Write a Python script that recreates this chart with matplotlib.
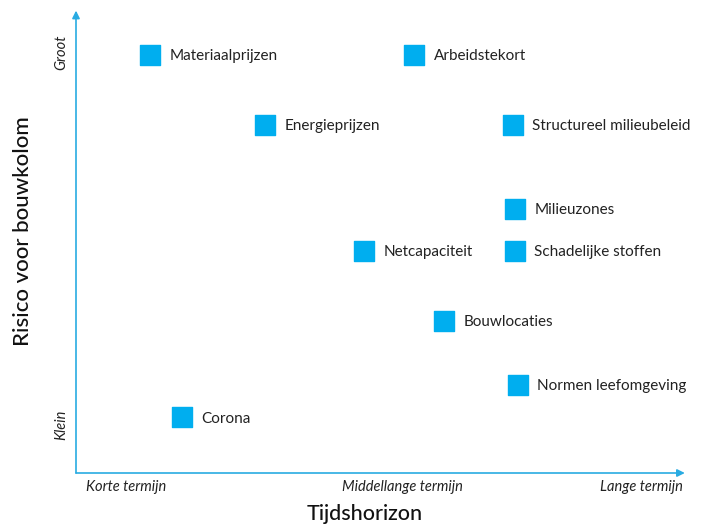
import matplotlib.pyplot as plt

# risk matrix: time horizon (0-100) vs risk (0-100)
names = ['Materiaalprijzen', 'Arbeidstekort', 'Energieprijzen', 'Structureel milieubeleid',
         'Milieuzones', 'Netcapaciteit', 'Schadelijke stoffen', 'Bouwlocaties',
         'Normen leefomgeving', 'Corona']
horizon = [12.2, 55.7, 31.1, 72.0, 72.3, 47.4, 72.3, 60.6, 72.8, 17.5]
risk = [90.7, 90.7, 75.5, 75.5, 57.3, 48.2, 48.2, 33.0, 19.1, 12.1]

x_ticks = [8.2, 53.8, 100]
x_ticklabels = ['Korte termijn', 'Middellange termijn', 'Lange termijn']
x_tick_align = ['center', 'center', 'right']
y_ticks = [91.3, 10.4]
y_ticklabels = ['Groot', 'Klein']

blue = '#00aeef'
axis_blue = '#29abe2'
plt.rcParams['font.family'] = ['Lato', 'DejaVu Sans']

fig = plt.figure(figsize=(7.05, 5.25), dpi=100)
ax = fig.add_axes([76/705, 52/525, 607/705, 461/525])
ax.set_xlim(0, 100)
ax.set_ylim(0, 100)
ax.axis('off')

# axes with arrow heads
ax.annotate('', xy=(100.3, 0), xytext=(0, 0), annotation_clip=False,
            arrowprops=dict(arrowstyle='-|>', color=axis_blue, lw=1.2,
                            mutation_scale=11, shrinkA=0, shrinkB=0))
ax.annotate('', xy=(0, 100.3), xytext=(0, 0), annotation_clip=False,
            arrowprops=dict(arrowstyle='-|>', color=axis_blue, lw=1.2,
                            mutation_scale=11, shrinkA=0, shrinkB=0))

ax.scatter(horizon, risk, marker='s', s=210, color=blue, zorder=3)
for n, xv, yv in zip(names, horizon, risk):
    ax.annotate(n, (xv, yv), xytext=(14, 0), textcoords='offset points',
                va='center_baseline', ha='left', fontsize=11, color='#222222')

for xv, lab, al in zip(x_ticks, x_ticklabels, x_tick_align):
    ax.text(xv, -3.0, lab, ha=al, va='center', style='italic', fontsize=10.5, color='#222222')
for yv, lab in zip(y_ticks, y_ticklabels):
    ax.text(-2.5, yv, lab, ha='center', va='center', rotation=90, style='italic',
            fontsize=10.5, color='#222222')

ax.text(47.6, -8.9, 'Tijdshorizon', ha='center', va='center', fontsize=15.5,
        fontweight='medium', color='#111111')
ax.text(-8.8, 52.5, 'Risico voor bouwkolom', ha='center', va='center', rotation=90,
        fontsize=16, fontweight='medium', color='#111111')

fig.savefig('out.png', dpi=100)
